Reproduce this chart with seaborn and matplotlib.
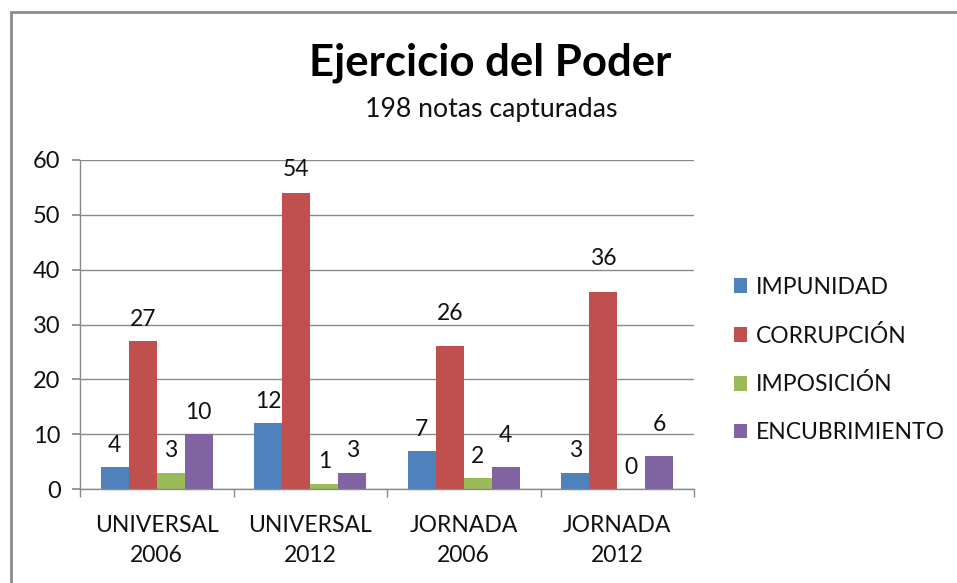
import matplotlib
matplotlib.use("Agg")
import matplotlib.pyplot as plt
from matplotlib.patches import Rectangle, Patch
import seaborn as sns
import pandas as pd

categories = ["UNIVERSAL\n2006", "UNIVERSAL\n2012", "JORNADA\n2006", "JORNADA\n2012"]
series_names = ["IMPUNIDAD", "CORRUPCIÓN", "IMPOSICIÓN", "ENCUBRIMIENTO"]
impunidad = [4, 12, 7, 3]
corrupcion = [27, 54, 26, 36]
imposicion = [3, 1, 2, 0]
encubrimiento = [10, 3, 4, 6]
colors = ["#4F81BD", "#C0504D", "#9BBB59", "#8064A2"]
y_ticks = [0, 10, 20, 30, 40, 50, 60]
# label gap above bar (points), per series x category, as placed in the original
label_pad = [[8, 8, 8, 8],
             [8, 9.5, 16, 16],
             [8, 8, 8, 8],
             [8, 8, 15, 15]]

rows = []
for name, vals in zip(series_names, [impunidad, corrupcion, imposicion, encubrimiento]):
    for c, v in zip(categories, vals):
        rows.append({"cat": c, "serie": name, "val": v})
df = pd.DataFrame(rows)

sns.set_theme(style="white")
plt.rcParams["font.family"] = ["Lato", "DejaVu Sans"]

W, H = 957, 583
fig = plt.figure(figsize=(W / 100, H / 100), dpi=100)
fig.patch.set_facecolor("white")
ax = fig.add_axes([80 / W, 1 - 489 / H, (694 - 80) / W, (489 - 160) / H])

sns.barplot(data=df, x="cat", y="val", hue="serie", order=categories,
            hue_order=series_names, palette=colors, width=0.73, gap=0,
            saturation=1, ax=ax, legend=False, linewidth=0)

for si, cont in enumerate(ax.containers):
    for ci, bar in enumerate(cont.patches):
        h = bar.get_height()
        ax.annotate(f"{int(round(h))}", (bar.get_x() + bar.get_width() / 2, h),
                    xytext=(0, label_pad[si][ci]), textcoords="offset points",
                    ha="center", va="bottom", fontsize=16.5, color="#111111",
                    annotation_clip=False)

ax.set_ylim(0, 60)
ax.set_xlim(-0.5, 3.5)
ax.set_yticks(y_ticks)
ax.set_xlabel("")
ax.set_ylabel("")
ax.yaxis.grid(True, color="#8a8a8a", linewidth=1)
ax.set_axisbelow(True)
for s in ["top", "right"]:
    ax.spines[s].set_visible(False)
for s in ["left", "bottom"]:
    ax.spines[s].set_color("#8a8a8a")
    ax.spines[s].set_linewidth(1)
ax.tick_params(axis="y", length=6, color="#8a8a8a", labelsize=17, pad=8, left=True, labelcolor="#111111")
ax.tick_params(axis="x", length=0, labelsize=16.5, pad=19, labelcolor="#111111")
ax.set_xticks(range(len(categories)))
ax.set_xticklabels(categories, linespacing=1.5)
ax.set_xticks([-0.5, 0.5, 1.5, 2.5, 3.5], minor=True)
ax.tick_params(axis="x", which="minor", length=6, color="#8a8a8a", bottom=True)

handles = [Patch(facecolor=c, edgecolor="none") for c in colors]
leg = fig.legend(handles, series_names, loc="center left",
                 bbox_to_anchor=(713 / W, 1 - 360 / H), frameon=False,
                 fontsize=16.5, handlelength=0.6, handleheight=0.6,
                 handletextpad=0.35, labelspacing=1.17)
for t in leg.get_texts():
    t.set_color("#111111")

fig.text(490 / W, 1 - 63 / H, "Ejercicio del Poder", ha="center", va="center",
         fontsize=31.5, fontweight="bold", color="#000000")
fig.text(491 / W, 1 - 109 / H, "198 notas capturadas", ha="center", va="center",
         fontsize=19.2, color="#111111")

fig.add_artist(Rectangle((11 / W, -0.1), 1.2, 1 - 12 / H + 0.1, fill=False,
                         edgecolor="#8c8c8c", linewidth=2, transform=fig.transFigure,
                         clip_on=False))

fig.savefig("out.png", dpi=100)
